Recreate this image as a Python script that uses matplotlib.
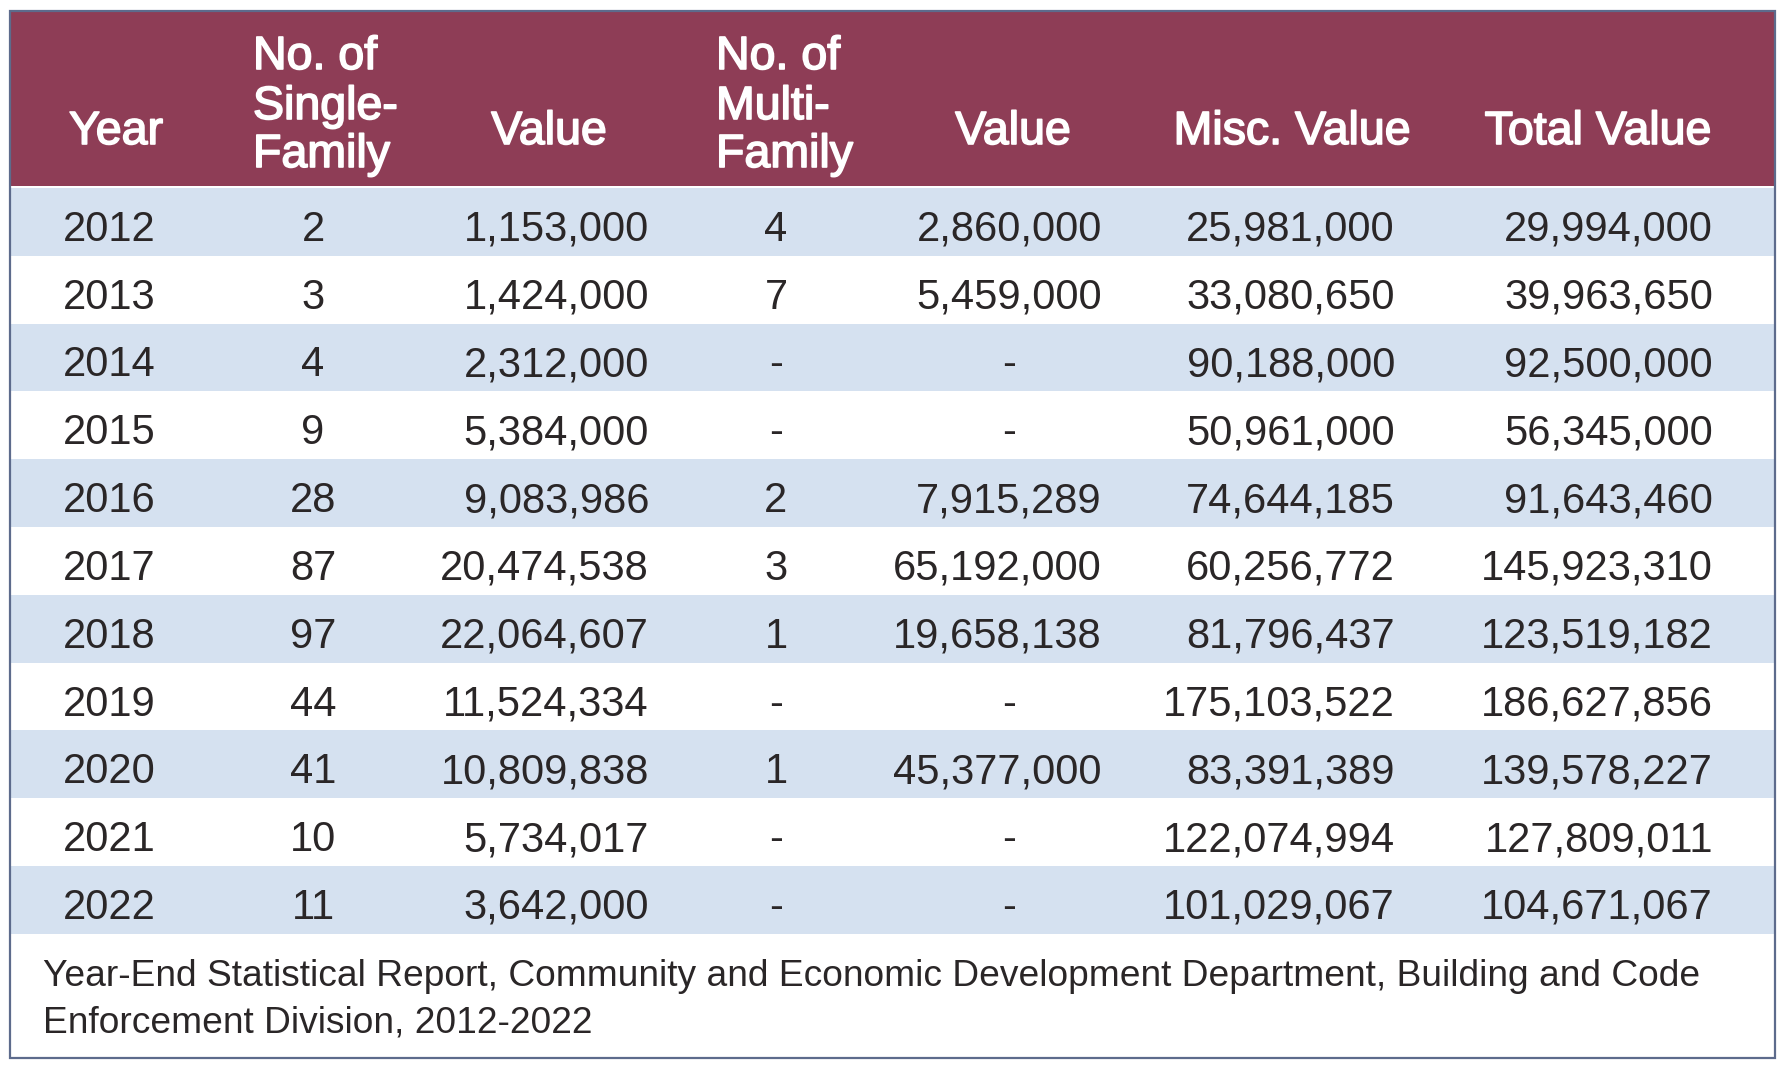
import matplotlib.pyplot as plt
import matplotlib.patheffects as pe
from matplotlib.patches import Rectangle

years = ['2012', '2013', '2014', '2015', '2016', '2017', '2018', '2019', '2020', '2021', '2022']
single_count = ['2', '3', '4', '9', '28', '87', '97', '44', '41', '10', '11']
single_value = ['1,153,000', '1,424,000', '2,312,000', '5,384,000', '9,083,986', '20,474,538',
                '22,064,607', '11,524,334', '10,809,838', '5,734,017', '3,642,000']
multi_count = ['4', '7', '-', '-', '2', '3', '1', '-', '1', '-', '-']
multi_value = ['2,860,000', '5,459,000', '-', '-', '7,915,289', '65,192,000', '19,658,138',
               '-', '45,377,000', '-', '-']
misc_value = ['25,981,000', '33,080,650', '90,188,000', '50,961,000', '74,644,185', '60,256,772',
              '81,796,437', '175,103,522', '83,391,389', '122,074,994', '101,029,067']
total_value = ['29,994,000', '39,963,650', '92,500,000', '56,345,000', '91,643,460', '145,923,310',
               '123,519,182', '186,627,856', '139,578,227', '127,809,011', '104,671,067']
source = ['Year-End Statistical Report, Community and Economic Development Department, Building and Code',
          'Enforcement Division, 2012-2022']

W, H = 1785, 1065
header_col = '#8e3d56'
band_col = '#d5e1f0'
text_col = '#2a2627'
fam = ['Liberation Sans', 'DejaVu Sans']

fig = plt.figure(figsize=(W / 100, H / 100), dpi=100)
ax = fig.add_axes([0, 0, 1, 1])
ax.set_xlim(0, W)
ax.set_ylim(H, 0)
ax.axis('off')

left, right, top, bottom = 10, 1775, 11, 1058
head_bot = 186
row_h = 67.8

ax.add_patch(Rectangle((left, top), right - left, head_bot - top, color=header_col, lw=0))
for i in range(len(years)):
    y0 = head_bot + 2 + i * row_h
    if i % 2 == 0:
        ax.add_patch(Rectangle((left, y0), right - left, row_h, color=band_col, lw=0))
ax.add_patch(Rectangle((left, top), right - left, bottom - top, fill=False,
                       edgecolor='#5d6b8c', lw=1.6))

# header (regular face thickened a little to look like a medium weight)
hkw = dict(color='white', fontsize=33.5, family=fam, va='baseline',
           path_effects=[pe.withStroke(linewidth=1.2, foreground='white')])
ax.text(116, 144, 'Year', ha='center', **hkw)
ax.text(253, 69, 'No. of', ha='left', **hkw)
ax.text(253, 119, 'Single-', ha='left', **hkw)
ax.text(253, 167, 'Family', ha='left', **hkw)
ax.text(549, 144, 'Value', ha='center', **hkw)
ax.text(716, 69, 'No. of', ha='left', **hkw)
ax.text(716, 119, 'Multi-', ha='left', **hkw)
ax.text(716, 167, 'Family', ha='left', **hkw)
ax.text(1013, 144, 'Value', ha='center', **hkw)
ax.text(1292, 144, 'Misc. Value', ha='center', **hkw)
ax.text(1598, 144, 'Total Value', ha='center', **hkw)

# body
bkw = dict(color=text_col, fontsize=30, family=fam, va='center')
for i in range(len(years)):
    yc = head_bot + 2 + (i + 0.5) * row_h + 8
    ax.text(109, yc, years[i], ha='center', **bkw)
    ax.text(313, yc, single_count[i], ha='center', **bkw)
    ax.text(649, yc, single_value[i], ha='right', **bkw)
    ax.text(776, yc, multi_count[i], ha='center', **bkw)
    if multi_value[i] == '-':
        ax.text(1009, yc, '-', ha='center', **bkw)
    else:
        ax.text(1102, yc, multi_value[i], ha='right', **bkw)
    ax.text(1395, yc, misc_value[i], ha='right', **bkw)
    ax.text(1713, yc, total_value[i], ha='right', **bkw)

for k, line in enumerate(source):
    ax.text(43, 977 + k * 46, line, ha='left', va='center', color=text_col,
            fontsize=26.7, family=fam)

fig.savefig('out.png', dpi=100)
